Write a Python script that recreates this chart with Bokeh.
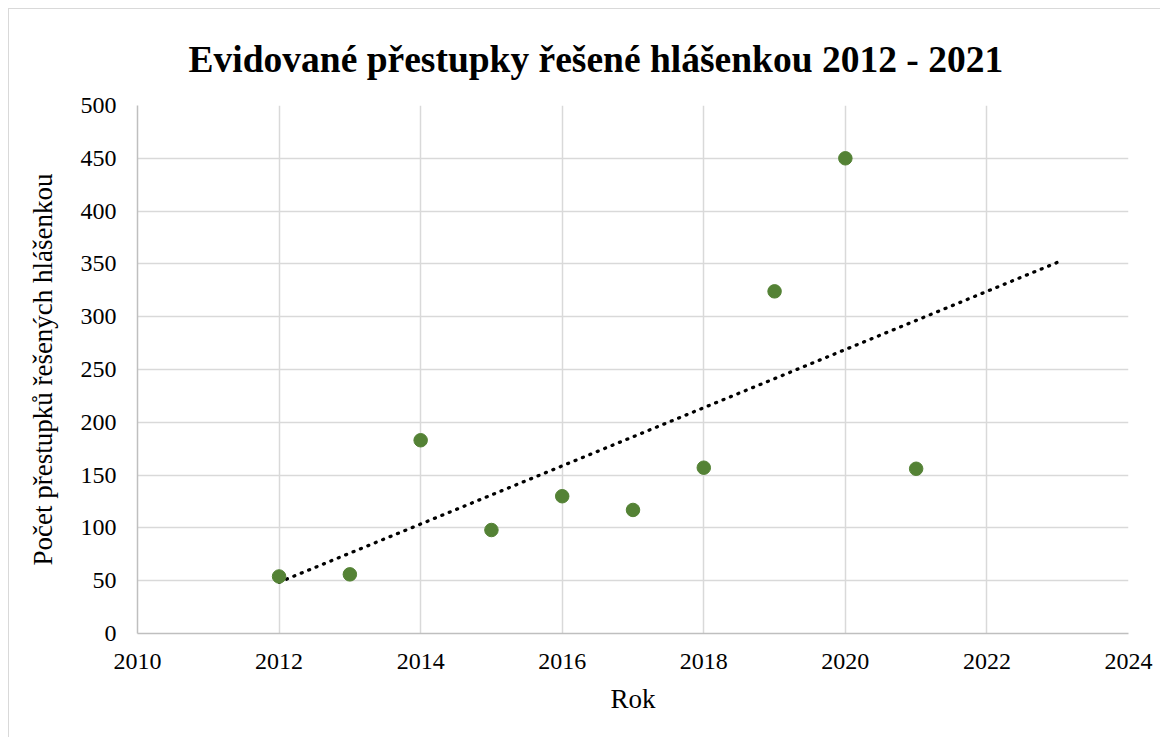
import numpy as np
from bokeh.plotting import figure
from bokeh.models import Range1d, FixedTicker, Title
from bokeh.embed import file_html
from bokeh.resources import INLINE

# Data
years = [2012, 2013, 2014, 2015, 2016, 2017, 2018, 2019, 2020, 2021]
counts = [54, 56, 183, 98, 130, 117, 157, 324, 450, 156]
trend_years = [2012, 2023]
x_ticks = [2010, 2012, 2014, 2016, 2018, 2020, 2022, 2024]
y_ticks = [0, 50, 100, 150, 200, 250, 300, 350, 400, 450, 500]

title_text = "Evidované přestupky řešené hlášenkou 2012 - 2021"
x_label = "Rok"
y_label = "Počet přestupků řešených hlášenkou"

FONT = "Liberation Serif"

p = figure(
    frame_width=991, frame_height=528,
    min_border_left=128, min_border_right=32,
    min_border_top=96, min_border_bottom=104,
    x_range=Range1d(2010, 2024), y_range=Range1d(0, 500),
    output_backend="svg", toolbar_location=None,
    background_fill_color="white", border_fill_color="white",
)
p.styles = {"margin-left": "8px", "margin-top": "8px",
            "border-left": "1px solid #d9d9d9", "border-top": "1px solid #d9d9d9"}
p.outline_line_color = None

t = Title(text=title_text, align="left", offset=51,
          text_font=FONT, text_font_size="37.5px", text_font_style="bold",
          text_color="black", standoff=51)
p.add_layout(t, "above")

# grid
p.xgrid.ticker = FixedTicker(ticks=x_ticks)
p.ygrid.ticker = FixedTicker(ticks=y_ticks)
for g in (p.xgrid, p.ygrid):
    g.grid_line_color = "#d9d9d9"
    g.grid_line_width = 1.5

# axes
p.xaxis.ticker = FixedTicker(ticks=x_ticks)
p.yaxis.ticker = FixedTicker(ticks=y_ticks)
for ax in (p.xaxis, p.yaxis):
    ax.axis_line_color = "#bfbfbf"
    ax.axis_line_width = 1.5
    ax.major_tick_line_color = None
    ax.minor_tick_line_color = None
    ax.major_tick_out = 0
    ax.major_tick_in = 0
    ax.major_label_text_font = FONT
    ax.major_label_text_font_size = "24px"
    ax.major_label_text_color = "black"
    ax.axis_label_text_font = FONT
    ax.axis_label_text_font_size = "27px"
    ax.axis_label_text_font_style = "normal"
    ax.axis_label_text_color = "black"

p.xaxis.axis_label = x_label
p.yaxis.axis_label = y_label
p.xaxis.major_label_standoff = 20
p.yaxis.major_label_standoff = 21
p.xaxis.axis_label_standoff = 12
p.yaxis.axis_label_standoff = 20

# linear trend (least squares of the data)
slope, intercept = np.polyfit(years, counts, 1)
trend_vals = [slope * x + intercept for x in trend_years]
p.line(trend_years, trend_vals, line_color="black", line_width=3.3,
       line_dash="1 7", line_cap="round")

p.scatter(years, counts, size=13.5, fill_color="#548235", line_color="#548235",
          marker="circle")

open("out.html", "w").write(file_html(p, INLINE))
